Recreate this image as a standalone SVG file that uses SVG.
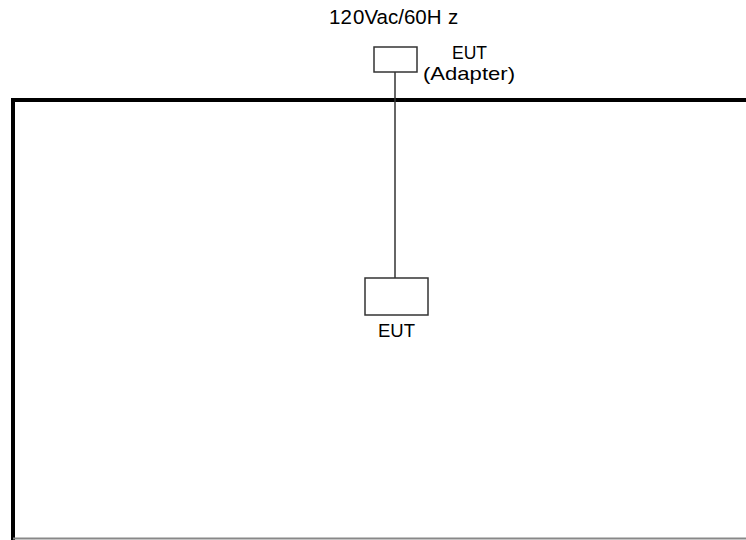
<svg xmlns="http://www.w3.org/2000/svg" width="746" height="540" viewBox="0 0 746 540">
<style>
.lbl{font-family:"Liberation Sans",Arial,sans-serif;font-size:19px;fill:#000}
.top{font-size:20.5px}
.box{fill:#fff;stroke:#333;stroke-width:1.5}
</style>
<rect width="746" height="540" fill="#fff"/>
<g id="frame">
<path d="M13 540 V100 H746" fill="none" stroke="#000" stroke-width="4"/>
<path d="M13 538.5 H746" fill="none" stroke="#888" stroke-width="2"/>
</g>
<g id="connectors">
<line x1="395" y1="72" x2="395" y2="278" stroke="#333" stroke-width="1.5"/>
</g>
<g id="supply">
<text class="lbl top" y="24"><tspan x="329">12</tspan><tspan x="353">0Vac/60H</tspan><tspan x="448">z</tspan></text>
</g>
<g id="adapter">
<rect class="box" x="374" y="47" width="43" height="25"/>
<text class="lbl" x="452" y="59" textLength="35" lengthAdjust="spacingAndGlyphs">EUT</text>
<text class="lbl" x="423" y="80" textLength="92" lengthAdjust="spacingAndGlyphs">(Adapter)</text>
</g>
<g id="eut">
<rect class="box" x="365" y="278" width="63" height="37"/>
<text class="lbl" x="378" y="337" textLength="37" lengthAdjust="spacingAndGlyphs">EUT</text>
</g>
</svg>
